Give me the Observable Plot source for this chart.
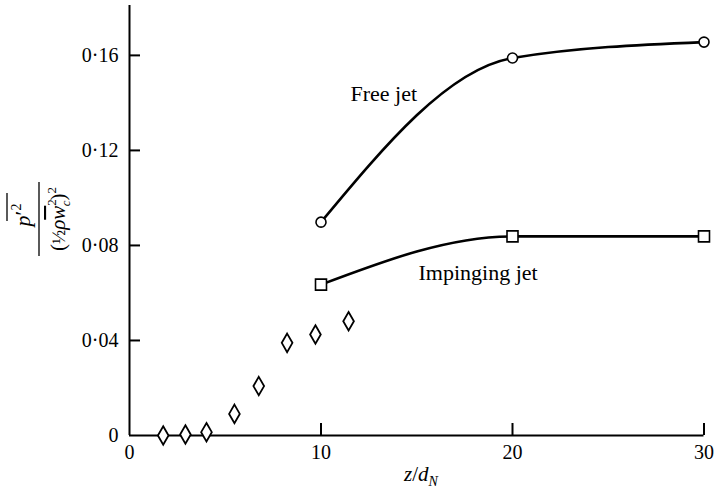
<!DOCTYPE html>
<html>
<head>
<meta charset="utf-8">
<script src="https://cdn.jsdelivr.net/npm/d3@7"></script>
<script src="https://cdn.jsdelivr.net/npm/@observablehq/plot@0.6"></script>
<style>
  html, body { margin: 0; padding: 0; background: #fff; }
  #chart svg { display: block; }
  #chart svg, #chart svg text { font-family: "Liberation Serif", "Times New Roman", Times, "DejaVu Serif", serif; }
</style>
</head>
<body>
<div id="chart"></div>
<script>
// ---- data ----
const freeJetZ = [10, 20, 30];
const freeJetP = [0.0898, 0.1589, 0.1656];

const impingingZ = [10, 20, 30];
const impingingP = [0.0635, 0.0838, 0.0838];

const nozzleZ = [1.76, 2.92, 4.02, 5.48, 6.75, 8.23, 9.71, 11.44];
const nozzleP = [0.0, 0.0004, 0.0014, 0.0091, 0.0208, 0.039, 0.0425, 0.0481];

const xTickValues = [0, 10, 20, 30];
const yTickValues = [0, 0.04, 0.08, 0.12, 0.16];

const curveLabels = ["Free jet", "Impinging jet"];
const curveLabelZ = [11.54, 15.09];
const curveLabelP = [0.1406, 0.0653];

// ---- tables ----
const freeJet = freeJetZ.map((z, i) => ({z, p: freeJetP[i]}));
const impinging = impingingZ.map((z, i) => ({z, p: impingingP[i]}));
const nozzle = nozzleZ.map((z, i) => ({z, p: nozzleP[i]}));
const labels = curveLabels.map((t, i) => ({t, z: curveLabelZ[i], p: curveLabelP[i]}));

const fmtY = d => d === 0 ? "0" : d.toFixed(2).replace(".", "\u00B7");
const font = "Liberation Serif, Times New Roman, Times, DejaVu Serif, serif";

const chart = Plot.plot({
  width: 715,
  height: 497,
  marginLeft: 129,
  marginRight: 11.5,
  marginTop: 5,
  marginBottom: 62,
  style: {fontFamily: font, fontSize: "20px", color: "black", background: "white"},
  x: {domain: [0, 30], axis: null},
  y: {domain: [0, 0.181], axis: null},
  marks: [
    Plot.ruleX([0], {strokeWidth: 2}),
    Plot.ruleY([0], {strokeWidth: 2}),
    Plot.axisY({ticks: yTickValues.filter(d => d > 0), tickSize: -11, tickFormat: () => "", strokeWidth: 2, label: null}),
    Plot.axisY({ticks: yTickValues, tickSize: 0, tickPadding: 11, tickFormat: fmtY, label: null, fontSize: 20}),
    Plot.axisX({ticks: xTickValues.filter(d => d > 0), tickSize: -12, tickFormat: () => "", strokeWidth: 2, label: null}),
    Plot.axisX({ticks: xTickValues, tickSize: 0, tickPadding: 9, tickFormat: d => String(d), label: null, fontSize: 20}),
    Plot.line(freeJet, {x: "z", y: "p", curve: "monotone-x", strokeWidth: 2.6, stroke: "black"}),
    Plot.line(impinging, {x: "z", y: "p", curve: "monotone-x", strokeWidth: 2.6, stroke: "black"}),
    Plot.dot(freeJet, {x: "z", y: "p", symbol: "circle", r: 5, fill: "white", stroke: "black", strokeWidth: 1.6}),
    Plot.dot(impinging, {x: "z", y: "p", symbol: "square", r: 6.2, fill: "white", stroke: "black", strokeWidth: 1.6}),
    Plot.dot(nozzle, {x: "z", y: "p", symbol: "diamond", r: 5.6, fill: "white", stroke: "black", strokeWidth: 1.8}),
    Plot.text(labels, {x: "z", y: "p", text: "t", textAnchor: "start", lineAnchor: "bottom", fontSize: 22, fill: "black"})
  ]
});

document.getElementById("chart").appendChild(chart);

// ---- axis titles (with sub/superscripts) ----
const svg = d3.select(chart);

// x title: z/d_N
const xt = svg.append("text")
  .attr("x", 421).attr("y", 481)
  .attr("text-anchor", "middle")
  .attr("font-size", 21)
  .attr("fill", "black");
xt.append("tspan").attr("font-style", "italic").text("z");
xt.append("tspan").text("/");
xt.append("tspan").attr("font-style", "italic").text("d");
xt.append("tspan").attr("font-style", "italic").attr("font-size", 14).attr("dy", 5).text("N");

// y title: fraction rotated
const g = svg.append("g")
  .attr("transform", "translate(39,219) rotate(-90)")
  .attr("fill", "black");

// numerator  p'^2 with overline
const num = g.append("text")
  .attr("x", 4).attr("y", -9)
  .attr("text-anchor", "middle")
  .attr("font-size", 22);
num.append("tspan").attr("font-style", "italic").text("p");
num.append("tspan").text("\u2032");
num.append("tspan").attr("font-size", 14).attr("dy", -9).text("2");
g.append("line").attr("x1", -2).attr("x2", 26).attr("y1", -32).attr("y2", -32)
  .attr("stroke", "black").attr("stroke-width", 1.3);

// fraction bar
g.append("line").attr("x1", -37).attr("x2", 37).attr("y1", 0).attr("y2", 0)
  .attr("stroke", "black").attr("stroke-width", 1.3);

// denominator (1/2 rho w^2_c)^2
const den = g.append("text")
  .attr("x", 0).attr("y", 26)
  .attr("text-anchor", "middle")
  .attr("font-size", 21);
den.append("tspan").text("(");
den.append("tspan").attr("font-size", 19).text("\u00BD");
den.append("tspan").attr("font-style", "italic").text("\u03C1");
den.append("tspan").attr("font-style", "italic").attr("text-decoration", "overline").text("w");
den.append("tspan").attr("font-size", 13).attr("dy", -9).text("2");
den.append("tspan").attr("font-size", 13).attr("font-style", "italic").attr("dx", -7).attr("dy", 14).text("c");
den.append("tspan").attr("dy", -5).text(")");
den.append("tspan").attr("font-size", 13).attr("dy", -9).text("2");
</script>
</body>
</html>
